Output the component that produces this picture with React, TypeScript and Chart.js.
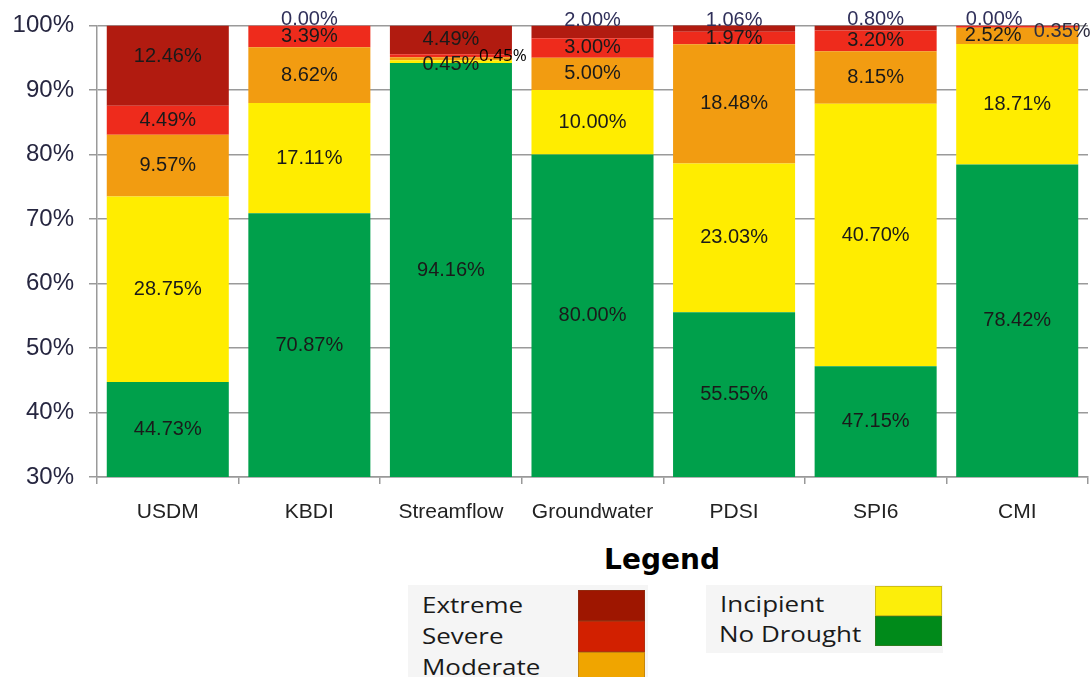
import React, { useEffect, useRef } from "react";
import { Chart, registerables } from "chart.js";

Chart.register(...registerables);

// ---------- data ----------
const categories = ["USDM", "KBDI", "Streamflow", "Groundwater", "PDSI", "SPI6", "CMI"];
const noDrought = [44.73, 70.87, 94.16, 80.0, 55.55, 47.15, 78.42];
const incipient = [28.75, 17.11, 0.45, 10.0, 23.03, 40.7, 18.71];
const moderate = [9.57, 8.62, 0.45, 5.0, 18.48, 8.15, 2.52];
const severe = [4.49, 3.39, 0.45, 3.0, 1.97, 3.2, 0.35];
const extreme = [12.46, 0.0, 4.49, 2.0, 1.06, 0.8, 0.0];
const yMin = 30;
const yMax = 100;
const yStep = 10;
const legendLeft = ["Extreme", "Severe", "Moderate"];
const legendRight = ["Incipient", "No Drought"];

// ---------- styles ----------
const barColors = ["#00A04B", "#FFED00", "#F29C11", "#EE2B1C", "#B11B10"];
const legendColorsLeft = ["#9E1600", "#D22000", "#F0A500"];
const legendColorsRight = ["#FCEE0A", "#008A1A"];
const NAVY = "#30305a";

type Ov = { dx?: number; dy?: number; top?: number; color?: string; font?: string; hide?: boolean };
const labelOverrides: Record<string, Ov> = {
  "4-0": { dy: -9 },
  "4-1": { top: -6, color: NAVY },
  "4-3": { top: -5, color: NAVY },
  "4-4": { top: -5, color: NAVY },
  "4-5": { top: -6, color: NAVY },
  "4-6": { top: -6, dx: -23, color: NAVY },
  "2-6": { dx: -24 },
  "3-6": { top: 6, dx: 45, color: "#2d2d40" },
  "1-2": { dy: 3 },
  "2-2": { top: 31, dx: 52, color: "#000", font: '17px "Open Sans", sans-serif' },
  "3-2": { hide: true },
};

const labelPlugin = {
  id: "segLabels",
  afterDatasetsDraw(chart: any) {
    const { ctx, chartArea } = chart;
    ctx.save();
    chart.data.datasets.forEach((ds: any, di: number) => {
      const meta = chart.getDatasetMeta(di);
      meta.data.forEach((bar: any, ci: number) => {
        const v = ds.data[ci] as number;
        const ov = labelOverrides[`${di}-${ci}`] || {};
        if (ov.hide) return;
        const top = Math.max(Math.min(bar.y, bar.base), chartArea.top);
        const bottom = Math.min(Math.max(bar.y, bar.base), chartArea.bottom);
        let y = (top + bottom) / 2;
        if (ov.top !== undefined) y = chartArea.top + ov.top;
        y += ov.dy || 0;
        const x = bar.x + (ov.dx || 0);
        ctx.font = ov.font || '20px "Liberation Sans", Arial, sans-serif';
        ctx.fillStyle = ov.color || "#1a1a1a";
        ctx.textAlign = "center";
        ctx.textBaseline = "middle";
        ctx.fillText(v.toFixed(2) + "%", x, y);
      });
    });
    ctx.restore();
  },
};

function ChartCanvas() {
  const ref = useRef<HTMLCanvasElement | null>(null);
  useEffect(() => {
    if (!ref.current) return;
    const series = [noDrought, incipient, moderate, severe, extreme];
    const names = ["No Drought", "Incipient", "Moderate", "Severe", "Extreme"];
    const chart = new Chart(ref.current, {
      type: "bar",
      data: {
        labels: categories,
        datasets: series.map((d, i) => ({
          label: names[i],
          data: d,
          backgroundColor: barColors[i],
          borderWidth: 0,
          barPercentage: 0.862,
          categoryPercentage: 1.0,
        })),
      },
      options: {
        animation: false,
        responsive: false,
        maintainAspectRatio: false,
        layout: { padding: { top: 10, right: 3, left: 0, bottom: 0 } },
        plugins: { legend: { display: false }, tooltip: { enabled: false } },
        scales: {
          x: {
            stacked: true,
            grid: { offset: true, drawOnChartArea: false, tickLength: 7, color: "#999", lineWidth: 1.5 },
            border: { color: "#999", width: 1.5 },
            ticks: {
              color: "#222",
              font: { family: '"Liberation Sans", Arial, sans-serif', size: 21 },
              padding: 16,
            },
            afterFit: (s: any) => {
              s.height = 53;
            },
          },
          y: {
            stacked: true,
            min: yMin,
            max: yMax,
            ticks: {
              stepSize: yStep,
              color: "#262640",
              font: { family: '"Liberation Sans", Arial, sans-serif', size: 24 },
              padding: 15,
              callback: (v: any) => v + "%",
            },
            grid: { color: "#9a9a9a", lineWidth: 1.5, tickLength: 8 },
            border: { color: "#9a9a9a", width: 1.5 },
            afterFit: (s: any) => {
              s.width = 97;
            },
          },
        },
      },
      plugins: [labelPlugin],
    });
    return () => chart.destroy();
  }, []);
  return <canvas ref={ref} width={1091} height={534} style={{ position: "absolute", left: 0, top: -4 }} />;
}

const legendText: React.CSSProperties = {
  position: "absolute",
  fontFamily: '"Open Sans", sans-serif',
  fontSize: 22,
  lineHeight: "31px",
  color: "#1a1a1a",
  whiteSpace: "nowrap",
  transform: "scaleX(1.18)",
  transformOrigin: "left center",
};

export default function App() {
  return (
    <div
      style={{
        position: "fixed",
        left: 0,
        top: 0,
        width: 1091,
        height: 677,
        background: "#fff",
        overflow: "hidden",
      }}
    >
      <ChartCanvas />
      <div
        style={{
          position: "absolute",
          left: 562,
          width: 200,
          top: 546,
          textAlign: "center",
          fontFamily: '"DejaVu Sans", sans-serif',
          fontWeight: "bold",
          fontSize: 28,
          lineHeight: "28px",
          color: "#000",
        }}
      >
        Legend
      </div>
      <div style={{ position: "absolute", left: 408, top: 585, width: 240, height: 92, background: "#F5F5F5" }} />
      {legendLeft.map((t, i) => (
        <React.Fragment key={t}>
          <div style={{ ...legendText, left: 422, top: 589 + i * 31 }}>{t}</div>
          <div
            style={{
              position: "absolute",
              left: 578,
              top: 590 + i * 31,
              width: 67,
              height: 31,
              background: legendColorsLeft[i],
              boxSizing: "border-box",
              border: "1px solid rgba(120,80,40,0.35)",
            }}
          />
        </React.Fragment>
      ))}
      <div style={{ position: "absolute", left: 706, top: 585, width: 237, height: 68, background: "#F5F5F5" }} />
      {legendRight.map((t, i) => (
        <React.Fragment key={t}>
          <div style={{ ...legendText, left: 720 - i, top: 588 + i * 30 }}>{t}</div>
          <div
            style={{
              position: "absolute",
              left: 875,
              top: 586 + i * 30,
              width: 67,
              height: 30,
              background: legendColorsRight[i],
              boxSizing: "border-box",
              border: "1px solid rgba(120,100,40,0.35)",
            }}
          />
        </React.Fragment>
      ))}
    </div>
  );
}
